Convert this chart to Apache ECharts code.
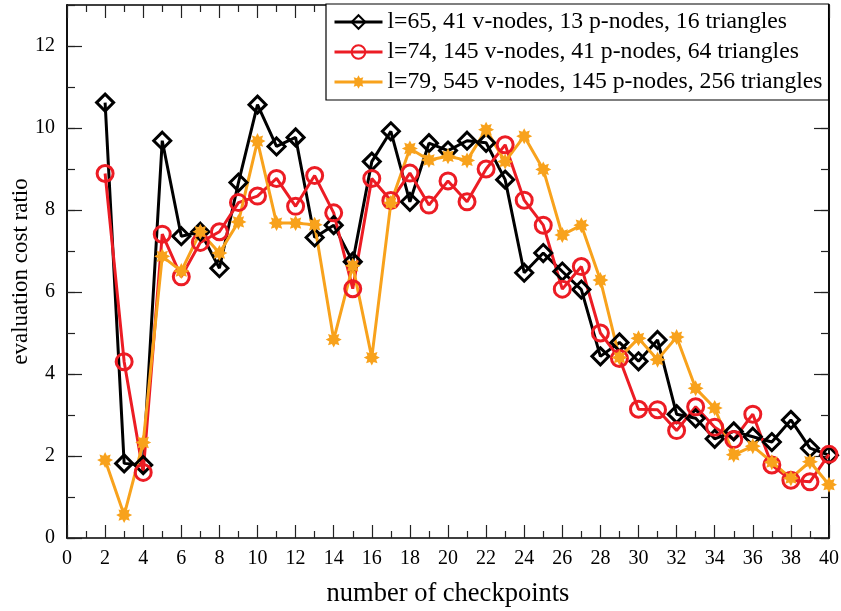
<!DOCTYPE html>
<html>
<head>
<meta charset="utf-8">
<script src="https://cdn.jsdelivr.net/npm/echarts@6/dist/echarts.min.js"></script>
<style>
html, body {margin:0; padding:0; background:#fff;}
#display {width:841px; height:611px;}
</style>
</head>
<body>
<div id="display"></div>
<script>
var checkpoints = [2,3,4,5,6,7,8,9,10,11,12,13,14,15,16,17,18,19,20,21,
                   22,23,24,25,26,27,28,29,30,31,32,33,34,35,36,37,38,39,40];

var cost_l65 = [10.62,1.82,1.78,9.69,7.36,7.47,6.58,8.67,10.57,9.55,9.77,7.33,7.63,6.74,9.18,9.92,8.2,9.63,9.45,9.69,
                9.64,8.74,6.47,6.95,6.5,6.06,4.43,4.77,4.31,4.83,3.02,2.92,2.42,2.6,2.47,2.34,2.88,2.19,2.02];
var cost_l74 = [8.89,4.3,1.6,7.41,6.37,7.21,7.47,8.18,8.34,8.77,8.09,8.84,7.93,6.08,8.77,8.23,8.9,8.12,8.71,8.2,
                9.0,9.59,8.24,7.63,6.07,6.62,5.0,4.38,3.14,3.13,2.62,3.2,2.7,2.4,3.02,1.78,1.41,1.37,2.04];
var cost_l79 = [1.9,0.56,2.33,6.87,6.51,7.47,6.95,7.71,9.68,7.68,7.68,7.64,4.84,6.64,4.4,8.17,9.5,9.22,9.31,9.21,
                9.96,9.18,9.8,8.99,7.39,7.63,6.29,4.4,4.87,4.35,4.9,3.65,3.17,2.03,2.24,1.85,1.46,1.86,1.3];

var names = ["l=65, 41 v-nodes, 13 p-nodes, 16 triangles",
             "l=74, 145 v-nodes, 41 p-nodes, 64 triangles",
             "l=79, 545 v-nodes, 145 p-nodes, 256 triangles"];

var FONT = "Liberation Serif";
var RED = "#ec1c24";
var ORANGE = "#f8a21c";

// asterisk marker
function starPath(n, rIn) {
    var pts = [];
    for (var i = 0; i < n * 2; i++) {
        var r = (i % 2 == 0) ? 10 : rIn;
        var a = Math.PI * i / n - Math.PI / 2;
        pts.push((10 + r * Math.cos(a)).toFixed(2) + " " + (10 + r * Math.sin(a)).toFixed(2));
    }
    return "path://M" + pts.join(" L") + " Z";
}

function pairs(ys) {
    return checkpoints.map(function (x, i) { return [x, ys[i]]; });
}

function xAxisDef(pos, labels) {
    return {
        type: "value", position: pos, min: 0, max: 40, interval: 2,
        axisLine: {show: true, onZero: false, lineStyle: {color: "#000", width: 1.5}},
        axisTick: {show: true, inside: true, length: 13, lineStyle: {color: "#222", width: 1.2}},
        minorTick: {show: true, splitNumber: 2, length: 7, lineStyle: {color: "#222", width: 1.2}},
        splitLine: {show: false},
        axisLabel: {show: labels, margin: 11, color: "#000", fontFamily: FONT, fontSize: 20},
        name: labels ? "number of checkpoints" : "",
        nameLocation: "middle", nameGap: 43, nameMoveOverlap: false,
        nameTextStyle: {color: "#000", fontFamily: FONT, fontSize: 26.5}
    };
}

function yAxisDef(pos, step, len, labels) {
    return {
        type: "value", position: pos, min: 0, max: 13, interval: step,
        axisLine: {show: true, onZero: false, lineStyle: {color: "#000", width: 1.5}},
        axisTick: {show: true, inside: true, length: len, lineStyle: {color: "#222", width: 1.2}},
        splitLine: {show: false},
        axisLabel: {show: labels, showMaxLabel: false, margin: 12, color: "#000", fontFamily: FONT, fontSize: 20},
        name: labels ? "evaluation cost ratio" : "",
        nameLocation: "middle", nameGap: 35, nameMoveOverlap: false,
        nameTextStyle: {color: "#000", fontFamily: FONT, fontSize: 23}
    };
}

function lineSeries(name, ys, color, symbol, size) {
    return {
        name: name, type: "line", data: pairs(ys),
        symbol: symbol, symbolSize: size, showAllSymbol: true,
        lineStyle: {color: color, width: 3},
        itemStyle: symbol.indexOf("path://") == 0
            ? {color: color, borderWidth: 0}
            : {color: "rgba(255,255,255,0)", borderColor: color, borderWidth: 3},
        emphasis: {disabled: true},
        animation: false
    };
}

var option = {
    backgroundColor: "#fff",
    animation: false,
    grid: {left: 67, right: 12, top: 5, bottom: 73, containLabel: false, outerBoundsMode: "none"},
    legend: {
        orient: "vertical", left: 326, top: 4,
        padding: [6, 6, 6, 7], itemGap: 6,
        itemWidth: 48, itemHeight: 17,
        lineStyle: {width: 3},
        backgroundColor: "#fff", borderColor: "#000", borderWidth: 1.2,
        textStyle: {color: "#000", fontFamily: FONT, fontSize: 23.7, lineHeight: 24},
        data: names
    },
    xAxis: [xAxisDef("bottom", true), xAxisDef("top", false)],
    yAxis: [yAxisDef("left", 2, 15, true), yAxisDef("left", 1, 8, false),
            yAxisDef("right", 2, 15, false), yAxisDef("right", 1, 8, false)],
    series: [
        lineSeries(names[0], cost_l65, "#000", "diamond", 17),
        lineSeries(names[1], cost_l74, RED, "circle", 16),
        lineSeries(names[2], cost_l79, ORANGE, starPath(8, 6), 16)
    ]
};

var myChart = echarts.init(document.getElementById("display"));
myChart.setOption(option);
</script>
</body>
</html>
